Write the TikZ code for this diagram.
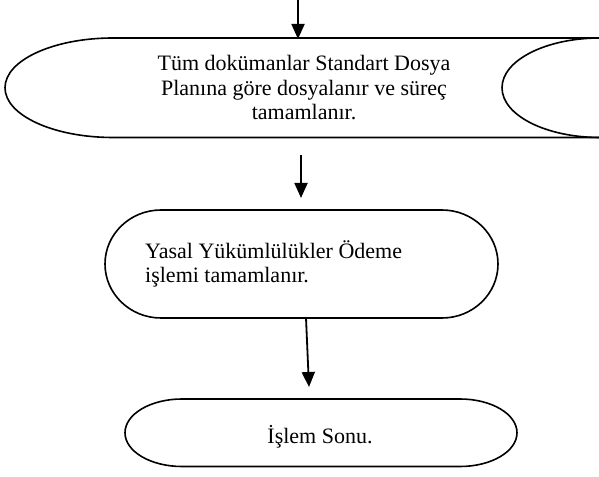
\documentclass[tikz,border=0pt]{standalone}
\usepackage{fontspec}
\setmainfont{Liberation Serif}
\usetikzlibrary{arrows.meta}
\begin{document}
\begin{tikzpicture}[x=1pt,y=1pt,
  shapeline/.style={line width=1.6pt, line join=round},
  conn/.style={line width=1.8pt, -{Triangle[length=15pt,width=13pt]}},
  lbl/.style={font=\fontsize{22}{24.5}\selectfont, inner sep=0pt}]
\useasboundingbox (0,0) rectangle (599,476);
\clip (0,0) rectangle (599,476);
\fill[white] (0,0) rectangle (599,476);

% box 1 (runs off the right edge)
\draw[shapeline] (610,438) -- (113,438)
  arc[start angle=90, end angle=270, x radius=108pt, y radius=49.75pt] -- (610,338.5);
\draw[shapeline] (600,438)
  arc[start angle=90, end angle=270, x radius=98pt, y radius=49.75pt];
\node[lbl, align=center] (t1) at (304,388)
  {Tüm dokümanlar Standart Dosya\\Planına göre dosyalanır ve süreç\\tamamlanır.};

% box 2
\draw[shapeline] (161,266) -- (442,266)
  arc[start angle=90, end angle=-90, x radius=56pt, y radius=54pt] -- (161,158)
  arc[start angle=270, end angle=90, x radius=56pt, y radius=54pt] -- cycle;
\node[lbl, align=left, anchor=west] (t2) at (145,212)
  {Yasal Yükümlülükler Ödeme\\işlemi tamamlanır.};

% box 3
\draw[shapeline] (182,77) -- (460,77)
  arc[start angle=90, end angle=-90, x radius=57pt, y radius=33.75pt] -- (182,9.5)
  arc[start angle=270, end angle=90, x radius=57pt, y radius=33.75pt] -- cycle;
\node[lbl, anchor=base] (t3) at (320,32) {İşlem Sonu.};

% connector end points
\coordinate (a1s) at (298,477);
\coordinate (b1top) at (298,437);
\coordinate (a2s) at (301,321);
\coordinate (b2above) at (301,278);
\coordinate (b2bot) at (306,158);
\coordinate (b3above) at (309,89);

\draw[conn] (a1s) -- (b1top);
\draw[conn] (a2s) -- (b2above);
\draw[conn] (b2bot) -- (b3above);
\end{tikzpicture}
\end{document}
